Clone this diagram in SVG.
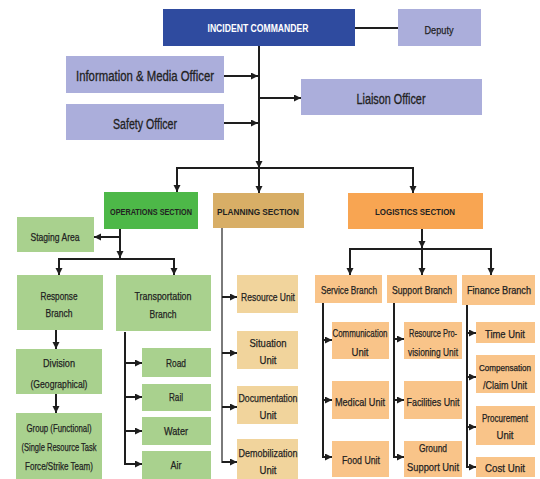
<svg xmlns="http://www.w3.org/2000/svg" width="540" height="479" viewBox="0 0 540 479">
  <defs>
    <marker id="arr" markerUnits="userSpaceOnUse" markerWidth="8" markerHeight="8" refX="7" refY="3.5" orient="auto">
      <path d="M0,0 L7,3.5 L0,7 z" fill="#1e1e1e"/>
    </marker>
    <style>
      text { font-family: "Liberation Sans", Arial, sans-serif; text-anchor: middle; fill: #222222; }
      .big { font-size: 14px; stroke: #222222; stroke-width: 0.3; }
      .sec { font-size: 9px; font-weight: bold; }
      .lbl { font-size: 11.5px; stroke: #222222; stroke-width: 0.25; }
      .sm { font-size: 10px; }
      .xs { font-size: 9px; }
      .cmd { font-size: 10px; font-weight: bold; fill: #ffffff; }
      .blue { fill: #2f4b9f; }
      .lav { fill: #abaedb; }
      .gsec { fill: #4db848; }
      .gbox { fill: #a9d18e; }
      .psec { fill: #d8ae66; }
      .pbox { fill: #f1d49c; }
      .lsec { fill: #f8a552; }
      .lbox { fill: #f9c489; }
      .ln { stroke: #1e1e1e; stroke-width: 2; fill: none; }
      .gray { stroke: #7a7a7a; stroke-width: 2; fill: none; }
      .a { marker-end: url(#arr); }
    </style>
  </defs>

  <!-- connectors -->
  <g id="connectors">
    <line class="ln" x1="355" y1="28" x2="398" y2="28"/>
    <line class="ln a" x1="259" y1="46" x2="259" y2="168"/>
    <line class="ln a" x1="224" y1="76" x2="258" y2="76"/>
    <line class="ln a" x1="224" y1="123" x2="258" y2="123"/>
    <line class="ln a" x1="259" y1="98" x2="301" y2="98"/>
    <line class="ln" x1="176" y1="168" x2="414" y2="168"/>
    <line class="ln a" x1="177" y1="168" x2="177" y2="192"/>
    <line class="ln a" x1="259" y1="168" x2="259" y2="193"/>
    <line class="ln a" x1="413" y1="168" x2="413" y2="193"/>

    <!-- operations -->
    <line class="ln a" x1="120" y1="229" x2="120" y2="258"/>
    <line class="ln a" x1="120" y1="237" x2="94" y2="237"/>
    <line class="ln" x1="58" y1="259" x2="175" y2="259"/>
    <line class="ln a" x1="59" y1="259" x2="59" y2="275"/>
    <line class="ln a" x1="174" y1="259" x2="174" y2="275"/>
    <line class="ln a" x1="56" y1="330" x2="56" y2="349"/>
    <line class="ln a" x1="56" y1="394" x2="56" y2="413"/>
    <line class="ln" x1="125" y1="332" x2="125" y2="465"/>
    <line class="ln a" x1="124" y1="363" x2="142" y2="363"/>
    <line class="ln a" x1="124" y1="397" x2="142" y2="397"/>
    <line class="ln a" x1="124" y1="431" x2="142" y2="431"/>
    <line class="ln a" x1="124" y1="464" x2="142" y2="464"/>

    <!-- planning -->
    <line class="gray" x1="222" y1="228" x2="222" y2="463"/>
    <line class="ln a" x1="222" y1="297" x2="237" y2="297"/>
    <line class="ln a" x1="222" y1="353" x2="237" y2="353"/>
    <line class="ln a" x1="222" y1="407" x2="237" y2="407"/>
    <line class="ln a" x1="222" y1="462" x2="237" y2="462"/>

    <!-- logistics -->
    <line class="ln a" x1="422" y1="229" x2="422" y2="248"/>
    <line class="ln" x1="349" y1="249" x2="492" y2="249"/>
    <line class="ln a" x1="350" y1="249" x2="350" y2="275"/>
    <line class="ln a" x1="422" y1="249" x2="422" y2="275"/>
    <line class="ln a" x1="491" y1="249" x2="491" y2="275"/>
    <line class="ln" x1="323" y1="303" x2="323" y2="458"/>
    <line class="ln a" x1="322" y1="340" x2="332" y2="340"/>
    <line class="ln a" x1="322" y1="400" x2="332" y2="400"/>
    <line class="ln a" x1="322" y1="457" x2="332" y2="457"/>
    <line class="ln" x1="394" y1="303" x2="394" y2="458"/>
    <line class="ln a" x1="393" y1="339" x2="404" y2="339"/>
    <line class="ln a" x1="393" y1="400" x2="404" y2="400"/>
    <line class="ln a" x1="393" y1="457" x2="404" y2="457"/>
    <line class="ln" x1="467" y1="305" x2="467" y2="468"/>
    <line class="ln a" x1="466" y1="333" x2="476" y2="333"/>
    <line class="ln a" x1="466" y1="377" x2="476" y2="377"/>
    <line class="ln a" x1="466" y1="427" x2="476" y2="427"/>
    <line class="ln a" x1="466" y1="467" x2="476" y2="467"/>
  </g>

  <!-- command staff -->
  <g id="incident-commander"><rect class="blue" x="163" y="9" width="192" height="37"/><text class="cmd" x="258" y="32" textLength="101" lengthAdjust="spacingAndGlyphs">INCIDENT COMMANDER</text></g>
  <g id="deputy"><rect class="lav" x="398" y="9" width="83" height="37"/><text class="lbl" x="439" y="34" textLength="29" lengthAdjust="spacingAndGlyphs">Deputy</text></g>
  <g id="info-officer"><rect class="lav" x="66" y="56" width="158" height="37"/><text class="big" x="145" y="81" textLength="138" lengthAdjust="spacingAndGlyphs">Information &amp; Media Officer</text></g>
  <g id="safety-officer"><rect class="lav" x="66" y="104" width="158" height="36"/><text class="big" x="145" y="129" textLength="64" lengthAdjust="spacingAndGlyphs">Safety Officer</text></g>
  <g id="liaison-officer"><rect class="lav" x="301" y="79" width="181" height="36"/><text class="big" x="391" y="104" textLength="69" lengthAdjust="spacingAndGlyphs">Liaison Officer</text></g>

  <!-- sections -->
  <g id="operations-section"><rect class="gsec" x="104" y="192" width="94" height="37"/><text class="sec" x="151" y="215" textLength="82" lengthAdjust="spacingAndGlyphs">OPERATIONS SECTION</text></g>
  <g id="planning-section"><rect class="psec" x="213" y="193" width="91" height="35"/><text class="sec" x="258" y="215" textLength="82" lengthAdjust="spacingAndGlyphs">PLANNING SECTION</text></g>
  <g id="logistics-section"><rect class="lsec" x="348" y="193" width="135" height="36"/><text class="sec" x="415" y="215" textLength="80" lengthAdjust="spacingAndGlyphs">LOGISTICS SECTION</text></g>

  <!-- operations -->
  <g id="staging-area"><rect class="gbox" x="17" y="217" width="77" height="35"/><text class="lbl" x="55" y="241" textLength="49" lengthAdjust="spacingAndGlyphs">Staging Area</text></g>
  <g id="response-branch"><rect class="gbox" x="17" y="275" width="86" height="55"/><text class="lbl" x="59" y="300" textLength="37" lengthAdjust="spacingAndGlyphs">Response</text><text class="lbl" x="59" y="317" textLength="27" lengthAdjust="spacingAndGlyphs">Branch</text></g>
  <g id="transportation-branch"><rect class="gbox" x="116" y="275" width="95" height="56"/><text class="lbl" x="163" y="300" textLength="57" lengthAdjust="spacingAndGlyphs">Transportation</text><text class="lbl" x="163" y="318" textLength="27" lengthAdjust="spacingAndGlyphs">Branch</text></g>
  <g id="division"><rect class="gbox" x="16" y="349" width="86" height="45"/><text class="lbl" x="59" y="367" textLength="32" lengthAdjust="spacingAndGlyphs">Division</text><text class="lbl" x="59" y="388" textLength="57" lengthAdjust="spacingAndGlyphs">(Geographical)</text></g>
  <g id="group"><rect class="gbox" x="16" y="413" width="86" height="66"/><text class="lbl" x="59" y="432" textLength="65" lengthAdjust="spacingAndGlyphs">Group (Functional)</text><text class="lbl" x="59" y="451" textLength="75" lengthAdjust="spacingAndGlyphs">(Single Resource Task</text><text class="lbl" x="59" y="470" textLength="68" lengthAdjust="spacingAndGlyphs">Force/Strike Team)</text></g>
  <g id="road"><rect class="gbox" x="142" y="348" width="69" height="29"/><text class="lbl" x="176" y="367" textLength="20" lengthAdjust="spacingAndGlyphs">Road</text></g>
  <g id="rail"><rect class="gbox" x="142" y="384" width="69" height="27"/><text class="lbl" x="176" y="401" textLength="14" lengthAdjust="spacingAndGlyphs">Rail</text></g>
  <g id="water"><rect class="gbox" x="142" y="417" width="69" height="28"/><text class="lbl" x="176" y="435" textLength="24" lengthAdjust="spacingAndGlyphs">Water</text></g>
  <g id="air"><rect class="gbox" x="142" y="451" width="69" height="28"/><text class="lbl" x="176" y="469" textLength="11" lengthAdjust="spacingAndGlyphs">Air</text></g>

  <!-- planning -->
  <g id="resource-unit"><rect class="pbox" x="237" y="275" width="61" height="38"/><text class="lbl" x="268" y="301" textLength="54" lengthAdjust="spacingAndGlyphs">Resource Unit</text></g>
  <g id="situation-unit"><rect class="pbox" x="237" y="331" width="61" height="38"/><text class="lbl" x="268" y="347" textLength="37" lengthAdjust="spacingAndGlyphs">Situation</text><text class="lbl" x="268" y="364" textLength="17" lengthAdjust="spacingAndGlyphs">Unit</text></g>
  <g id="documentation-unit"><rect class="pbox" x="237" y="386" width="61" height="38"/><text class="lbl" x="268" y="402" textLength="59" lengthAdjust="spacingAndGlyphs">Documentation</text><text class="lbl" x="268" y="419" textLength="17" lengthAdjust="spacingAndGlyphs">Unit</text></g>
  <g id="demobilization-unit"><rect class="pbox" x="237" y="439" width="61" height="40"/><text class="lbl" x="268" y="457" textLength="59" lengthAdjust="spacingAndGlyphs">Demobilization</text><text class="lbl" x="268" y="474" textLength="17" lengthAdjust="spacingAndGlyphs">Unit</text></g>

  <!-- logistics -->
  <g id="service-branch"><rect class="lbox" x="315" y="275" width="67" height="28"/><text class="lbl" x="349" y="294" textLength="56" lengthAdjust="spacingAndGlyphs">Service Branch</text></g>
  <g id="support-branch"><rect class="lbox" x="387" y="275" width="70" height="28"/><text class="lbl" x="422" y="294" textLength="60" lengthAdjust="spacingAndGlyphs">Support Branch</text></g>
  <g id="finance-branch"><rect class="lbox" x="462" y="275" width="73" height="30"/><text class="lbl sm" x="499" y="294" textLength="64" lengthAdjust="spacingAndGlyphs">Finance Branch</text></g>
  <g id="communication-unit"><rect class="lbox" x="332" y="322" width="57" height="37"/><text class="lbl" x="360" y="337" textLength="55" lengthAdjust="spacingAndGlyphs">Communication</text><text class="lbl" x="360" y="356" textLength="17" lengthAdjust="spacingAndGlyphs">Unit</text></g>
  <g id="medical-unit"><rect class="lbox" x="332" y="381" width="57" height="38"/><text class="lbl" x="360" y="406" textLength="50" lengthAdjust="spacingAndGlyphs">Medical Unit</text></g>
  <g id="food-unit"><rect class="lbox" x="332" y="441" width="57" height="36"/><text class="lbl" x="361" y="464" textLength="38" lengthAdjust="spacingAndGlyphs">Food Unit</text></g>
  <g id="resource-provisioning-unit"><rect class="lbox" x="404" y="322" width="58" height="37"/><text class="lbl" x="433" y="337" textLength="48" lengthAdjust="spacingAndGlyphs">Resource Pro-</text><text class="lbl" x="433" y="356" textLength="50" lengthAdjust="spacingAndGlyphs">visioning Unit</text></g>
  <g id="facilities-unit"><rect class="lbox" x="404" y="381" width="58" height="38"/><text class="lbl" x="433" y="406" textLength="53" lengthAdjust="spacingAndGlyphs">Facilities Unit</text></g>
  <g id="ground-support-unit"><rect class="lbox" x="404" y="441" width="58" height="36"/><text class="lbl" x="433" y="452" textLength="28" lengthAdjust="spacingAndGlyphs">Ground</text><text class="lbl" x="433" y="471" textLength="52" lengthAdjust="spacingAndGlyphs">Support Unit</text></g>
  <g id="time-unit"><rect class="lbox" x="476" y="322" width="59" height="21"/><text class="lbl" x="505" y="338" textLength="40" lengthAdjust="spacingAndGlyphs">Time Unit</text></g>
  <g id="compensation-claim-unit"><rect class="lbox" x="476" y="355" width="59" height="38"/><text class="lbl xs" x="505" y="371" textLength="52" lengthAdjust="spacingAndGlyphs">Compensation</text><text class="lbl" x="505" y="389" textLength="44" lengthAdjust="spacingAndGlyphs">/Claim Unit</text></g>
  <g id="procurement-unit"><rect class="lbox" x="476" y="406" width="59" height="39"/><text class="lbl sm" x="505" y="422" textLength="46" lengthAdjust="spacingAndGlyphs">Procurement</text><text class="lbl" x="505" y="439" textLength="17" lengthAdjust="spacingAndGlyphs">Unit</text></g>
  <g id="cost-unit"><rect class="lbox" x="476" y="457" width="59" height="20"/><text class="lbl" x="505" y="472" textLength="40" lengthAdjust="spacingAndGlyphs">Cost Unit</text></g>
</svg>
